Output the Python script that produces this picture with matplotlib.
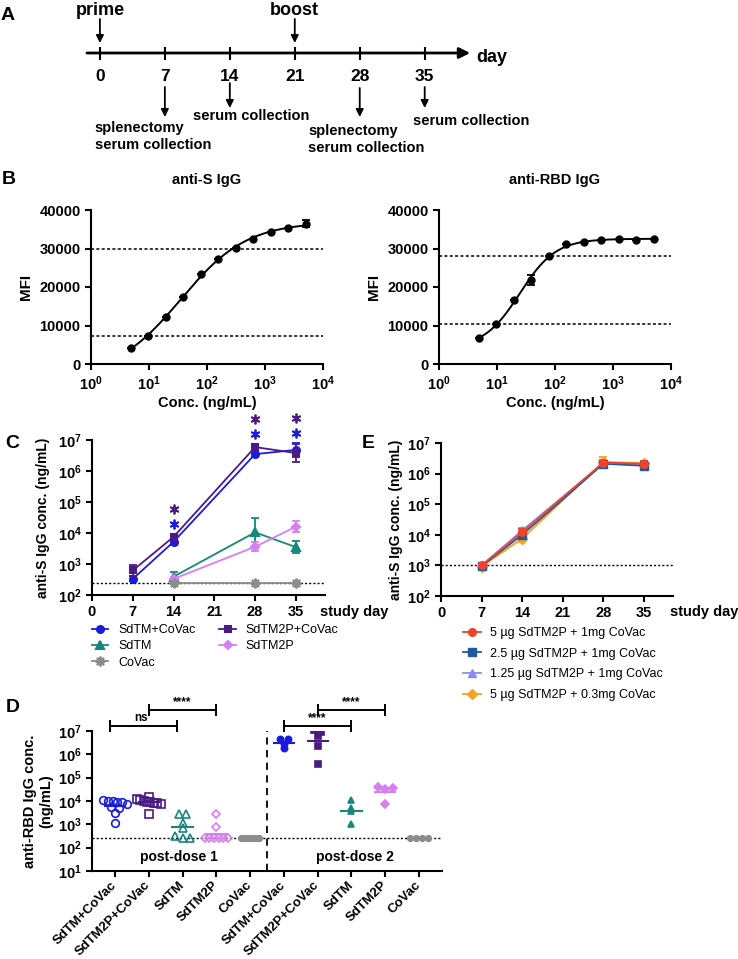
import numpy as np
import matplotlib
matplotlib.use('Agg')
import matplotlib.pyplot as plt
from matplotlib.ticker import LogLocator, NullLocator

plt.rcParams['font.family'] = ['Liberation Sans', 'DejaVu Sans']
plt.rcParams['font.weight'] = 'bold'
plt.rcParams['axes.labelweight'] = 'bold'
plt.rcParams['axes.titleweight'] = 'bold'
plt.rcParams['mathtext.fontset'] = 'custom'
plt.rcParams['mathtext.rm'] = 'Liberation Sans:bold'
plt.rcParams['mathtext.it'] = 'Liberation Sans:bold'
plt.rcParams['mathtext.bf'] = 'Liberation Sans:bold'
plt.rcParams['axes.linewidth'] = 1.5
for a in ('xtick', 'ytick'):
    plt.rcParams[a + '.major.width'] = 1.5
    plt.rcParams[a + '.major.size'] = 4
    plt.rcParams[a + '.labelsize'] = 10.5
    plt.rcParams[a + '.direction'] = 'out'

## ---- data ----
# A: immunisation schedule
sched_days = [0, 7, 14, 21, 28, 35]
dose_days = [0, 21]
dose_names = ['prime', 'boost']
collect_days = [7, 14, 28, 35]
collect_names = ['splenectomy\nserum collection', 'serum collection',
                 'splenectomy\nserum collection', 'serum collection']

# B: standard curves (MFI vs conc.)
conc = [4.88, 9.77, 19.5, 39.1, 78.1, 156, 313, 625, 1250, 2500, 5000]
mfi_s = [4240, 7300, 12240, 17370, 23260, 27400, 30130, 32470, 34380, 35340, 36380]
mfi_s_err = [0, 0, 0, 0, 0, 0, 0, 0, 0, 0, 900]
mfi_rbd = [6630, 10320, 16500, 21850, 28100, 31050, 31800, 32250, 32430, 32080, 32430]
mfi_rbd_err = [0, 0, 0, 1300, 0, 0, 0, 0, 0, 0, 0]
lim_s = [7300, 30000]
lim_rbd = [10300, 28100]

# C: anti-S IgG kinetics (errors in log10 units)
c_days_all = [7, 14, 28, 35]
c_days_late = [14, 28, 35]
c_sdtm_cov = [330, 5200, 3.5e6, 4.8e6]
c_sdtm_cov_err = [0.08, 0.1, 0.08, 0.22]
c_sdtm2p_cov = [620, 7500, 5.9e6, 3.8e6]
c_sdtm2p_cov_err = [0.18, 0.1, 0.1, 0.3]
c_sdtm = [390, 10500, 3500]
c_sdtm_err = [0.15, 0.45, 0.2]
c_sdtm2p = [330, 3600, 16000]
c_sdtm2p_err = [0.05, 0.15, 0.17]
c_covac = [250, 250, 250]
c_covac_err = [0, 0, 0]
c_lod = 250
star_days = [14, 28, 35]

# E: dose titration
e_days = [7, 14, 28, 35]
e_labels = ['5 µg SdTM2P + 1mg CoVac', '2.5 µg SdTM2P + 1mg CoVac',
            '1.25 µg SdTM2P + 1mg CoVac', '5 µg SdTM2P + 0.3mg CoVac']
e_5_1 = [1000, 12000, 2.3e6, 2.1e6]
e_5_1_err = [0.04, 0.1, 0.08, 0.1]
e_25_1 = [950, 10000, 2.1e6, 1.8e6]
e_25_1_err = [0.04, 0.1, 0.08, 0.15]
e_125_1 = [1000, 14000, 2.2e6, 2.0e6]
e_125_1_err = [0.04, 0.08, 0.08, 0.12]
e_5_03 = [920, 7500, 2.4e6, 2.2e6]
e_5_03_err = [0.04, 0.1, 0.15, 0.08]
e_lod = 1000

# D: anti-RBD IgG per mouse
d_labels = ['SdTM+CoVac', 'SdTM2P+CoVac', 'SdTM', 'SdTM2P', 'CoVac'] * 2
d1_sdtm_cov = [11200, 10500, 10000, 9500, 8900, 7600, 5600, 5200, 3100, 1150]
d1_sdtm2p_cov = [15100, 12600, 11200, 10000, 9300, 8900, 8300, 7900, 7600, 2800]
d1_sdtm = [2800, 2800, 1100, 700, 320, 250, 250]
d1_sdtm2p = [2800, 760, 250, 250, 250, 250, 250, 250]
d1_covac = [250] * 8
d2_sdtm_cov = [4.5e6, 4.5e6, 1.8e6, 2.8e6]
d2_sdtm2p_cov = [1.12e7, 8.9e6, 6.3e6, 2.3e6, 4.0e5]
d2_sdtm = [11200, 5000, 3700, 1050]
d2_sdtm2p = [40000, 31600, 35500, 7600]
d2_covac = [250] * 4
d_lod = 250
d_sig = [(0, 2, 'ns'), (1, 3, '****'), (5, 7, '****'), (6, 8, '****')]

## ---- styles ----
BLUE, PURPLE, TEAL, VIOLET, GREY = '#1a1ae0', '#4b1a85', '#16877d', '#d67ff0', '#8c8c8c'
E_COLS = ['#f0412b', '#1d5b9c', '#8a8cf2', '#f5a31f']
E_MARK = ['o', 's', '^', 'D']

fig = plt.figure(figsize=(7.38, 9.59), dpi=100)
W, H = 738., 959.


def frac(x0, y0, x1, y1):
    # pixel box -> figure fraction rect
    return [x0 / W, 1 - y1 / H, (x1 - x0) / W, (y1 - y0) / H]


def style(ax):
    ax.spines['top'].set_visible(False)
    ax.spines['right'].set_visible(False)


def logy(ax, lo, hi):
    ax.set_yscale('log')
    ax.set_ylim(lo, hi)
    ax.yaxis.set_major_locator(LogLocator(base=10, numticks=20))
    ax.yaxis.set_minor_locator(NullLocator())


def fit4pl(x, y):
    lx = np.log10(x)
    y = np.asarray(y, float)
    f = lambda p, t: p[0] + (p[1] - p[0]) / (1 + 10 ** ((p[2] - t) * p[3]))
    p = np.array([y.min(), y.max(), np.median(lx), 1.0])
    lam = 1e-2
    for _ in range(300):
        r = y - f(p, lx)
        J = np.empty((len(lx), 4))
        for j in range(4):
            h = 1e-6 * max(1, abs(p[j]))
            dp = np.zeros(4)
            dp[j] = h
            J[:, j] = (f(p + dp, lx) - f(p - dp, lx)) / (2 * h)
        A = J.T @ J
        step = np.linalg.solve(A + lam * np.diag(np.diag(A)) + 1e-12 * np.eye(4), J.T @ r)
        if np.sum((y - f(p + step, lx)) ** 2) < np.sum(r ** 2):
            p = p + step
            lam *= 0.3
        else:
            lam *= 3
    return lambda t: f(p, np.log10(t))


def spread(vals, step=0.22, maxw=0.7):
    lv = np.log10(vals)
    key = np.round(lv / 0.25)
    off = np.zeros(len(vals))
    for k in np.unique(key):
        idx = np.where(key == k)[0]
        n = len(idx)
        if n > 1:
            s = min(step, maxw / (n - 1))
            off[idx] = (np.arange(n) - (n - 1) / 2) * s
    return off


def logerr(vals, err):
    v = np.asarray(vals, float)
    e = np.asarray(err, float)
    return [v - v / 10 ** e, v * 10 ** e - v]


## ---- A ----
px0, ppd = 99.9, 9.28
axA = fig.add_axes([0, 1 - 175 / H, 1, 175 / H])
axA.set_xlim(-px0 / ppd, (W - px0) / ppd)
axA.set_ylim(175, 0)
axA.axis('off')
axA.annotate('', xy=(39.9, 53), xytext=(-1.4, 53),
             arrowprops=dict(arrowstyle='-|>', lw=2, color='k', mutation_scale=16,
                             shrinkA=0, shrinkB=0))
axA.vlines(sched_days, 47, 60, color='k', lw=1.5)
for d in sched_days:
    axA.text(d, 81, str(d), ha='center', va='baseline', fontsize=12.5)
axA.text(40.6, 62, 'day', ha='left', va='baseline', fontsize=13)
for d, name in zip(dose_days, dose_names):
    axA.text(d, 15, name, ha='center', va='baseline', fontsize=13)
    axA.annotate('', xy=(d, 43), xytext=(d, 19),
                 arrowprops=dict(arrowstyle='-|>', lw=1.3, color='k', mutation_scale=11,
                                 shrinkA=0, shrinkB=0))
arr_top = [87, 83, 88, 87]
arr_tip = [117, 108, 117, 108]
txt_top = [121, 109, 124, 114]
txt_dx = [-1.3, 2.3, 0.7, 5.0]
for d, name, a0, a1, t0, dx in zip(collect_days, collect_names, arr_top, arr_tip, txt_top, txt_dx):
    axA.annotate('', xy=(d, a1), xytext=(d, a0),
                 arrowprops=dict(arrowstyle='-|>', lw=1.3, color='k', mutation_scale=11,
                                 shrinkA=0, shrinkB=0))
    axA.text(d + dx, t0, name, ha='center', va='top', multialignment='left',
             fontsize=10.5, linespacing=1.3)

## ---- B ----
for rect, title, y, yerr, lims in [(frac(91, 210, 323, 364), 'anti-S IgG', mfi_s, mfi_s_err, lim_s),
                                   (frac(439, 210, 671, 364), 'anti-RBD IgG', mfi_rbd, mfi_rbd_err, lim_rbd)]:
    ax = fig.add_axes(rect)
    style(ax)
    ax.set_xscale('log')
    ax.set_xlim(1, 1e4)
    ax.set_ylim(0, 40000)
    ax.set_yticks([0, 10000, 20000, 30000, 40000])
    ax.xaxis.set_major_locator(LogLocator(base=10, numticks=10))
    ax.xaxis.set_minor_locator(NullLocator())
    for lv in lims:
        ax.axhline(lv, color='k', lw=1.1, ls=(0, (2, 1.5)))
    curve = fit4pl(conc, y)
    xs = np.logspace(np.log10(min(conc)), np.log10(max(conc)), 300)
    ax.plot(xs, curve(xs), color='k', lw=1.4)
    ax.errorbar(conc, y, yerr=yerr, fmt='o', color='k', ms=5, capsize=3, elinewidth=1.3,
                capthick=1.3)
    ax.set_title(title, fontsize=10.5, pad=19)
    ax.set_ylabel('MFI', fontsize=11)
    ax.yaxis.set_label_coords(-0.25, 0.5)
    ax.set_xlabel('Conc. (ng/mL)', fontsize=10.5)
    ax.xaxis.set_label_coords(0.5, -0.21)

## ---- C ----
axC = fig.add_axes(frac(92, 440, 325, 595))
style(axC)
logy(axC, 1e2, 1e7)
axC.set_xlim(0, 40)
axC.set_xticks(sched_days)
axC.axhline(c_lod, color='k', lw=1.0, ls=(0, (1.5, 1.5)), zorder=1)
c_series = [(c_days_all, c_sdtm_cov, c_sdtm_cov_err, BLUE, 'o', 5, 'SdTM+CoVac'),
            (c_days_all, c_sdtm2p_cov, c_sdtm2p_cov_err, PURPLE, 's', 5, 'SdTM2P+CoVac'),
            (c_days_late, c_sdtm, c_sdtm_err, TEAL, '^', 6, 'SdTM'),
            (c_days_late, c_sdtm2p, c_sdtm2p_err, VIOLET, 'D', 4.5, 'SdTM2P'),
            (c_days_late, c_covac, c_covac_err, GREY, (8, 2, 0), 7, 'CoVac')]
c_handles = []
for dd, vv, ee, col, mk, ms, lab in c_series:
    axC.errorbar(dd, vv, yerr=logerr(vv, ee), fmt='none', ecolor=col, elinewidth=1.3,
                 capsize=3, capthick=1.3)
    h, = axC.plot(dd, vv, color=col, marker=mk, ms=ms, lw=1.3, mew=1.5, label=lab)
    c_handles.append(h)
# significance stars above the two combination groups
for d in star_days:
    ia = c_days_all.index(d)
    top = max(c_sdtm_cov[ia] * 10 ** c_sdtm_cov_err[ia], c_sdtm2p_cov[ia] * 10 ** c_sdtm2p_cov_err[ia])
    axC.plot([d], [top * 10 ** 0.33], ls='none', marker=(6, 2, 0), ms=7, mew=1.3, color=BLUE,
             clip_on=False)
    axC.plot([d], [top * 10 ** 0.8], ls='none', marker=(6, 2, 0), ms=7, mew=1.3, color=PURPLE,
             clip_on=False)
axC.set_ylabel('anti-S IgG conc. (ng/mL)', fontsize=10)
axC.yaxis.set_label_coords(-0.18, 0.5)
fig.text(320 / W, 1 - 612 / H, 'study day', ha='left', va='center', fontsize=10.5)
order = [0, 2, 4, 1, 3]
axC.legend([c_handles[i] for i in order], [c_handles[i].get_label() for i in order],
           loc='upper left', bbox_to_anchor=(92 / W, 1 - 624 / H), bbox_transform=fig.transFigure,
           ncol=2, frameon=False, prop={'weight': 'normal', 'size': 9}, handlelength=1.3,
           handletextpad=0.8, columnspacing=1.9, labelspacing=0.35, borderpad=0,
           borderaxespad=0)

## ---- E ----
axE = fig.add_axes(frac(441, 443, 673, 596))
style(axE)
logy(axE, 1e2, 1e7)
axE.set_xlim(0, 40)
axE.set_xticks(sched_days)
axE.axhline(e_lod, color='k', lw=1.0, ls=(0, (1.5, 1.5)), zorder=1)
e_vals = [e_5_1, e_25_1, e_125_1, e_5_03]
e_errs = [e_5_1_err, e_25_1_err, e_125_1_err, e_5_03_err]
e_handles = []
for k in range(4):
    z = 10 - k
    axE.errorbar(e_days, e_vals[k], yerr=logerr(e_vals[k], e_errs[k]), fmt='none',
                 ecolor=E_COLS[k], elinewidth=1.3, capsize=3, capthick=1.3, zorder=z)
    h, = axE.plot(e_days, e_vals[k], color=E_COLS[k], marker=E_MARK[k], ms=5.5, lw=1.3,
                  label=e_labels[k], zorder=z)
    e_handles.append(h)
axE.set_ylabel('anti-S IgG conc. (ng/mL)', fontsize=10)
axE.yaxis.set_label_coords(-0.165, 0.5)
fig.text(670 / W, 1 - 612 / H, 'study day', ha='left', va='center', fontsize=10.5)
axE.legend(handles=e_handles, loc='upper left', bbox_to_anchor=(463 / W, 1 - 627 / H),
           bbox_transform=fig.transFigure, frameon=False, prop={'weight': 'normal', 'size': 9},
           handlelength=1.4, handletextpad=0.8, labelspacing=0.7, borderpad=0, borderaxespad=0)

## ---- D ----
axD = fig.add_axes(frac(92, 731, 442, 871))
style(axD)
logy(axD, 10, 1e7)
axD.set_xlim(-0.68, 9.68)
axD.axhline(d_lod, color='k', lw=1.0, ls=(0, (1.5, 1.5)), zorder=1)
axD.axvline(4.5, color='k', lw=1.3, ls=(0, (4, 3)))
d_values = [d1_sdtm_cov, d1_sdtm2p_cov, d1_sdtm, d1_sdtm2p, d1_covac,
            d2_sdtm_cov, d2_sdtm2p_cov, d2_sdtm, d2_sdtm2p, d2_covac]
d_cols = [BLUE, PURPLE, TEAL, VIOLET, GREY] * 2
d_mark = ['o', 's', '^', 'D', 'o'] * 2
for i, vals in enumerate(d_values):
    vals = np.asarray(vals, float)
    xs = i + spread(vals, maxw=0.7 if i % 5 != 4 else 0.55)
    open_m = i < 5 and i % 5 != 4
    if open_m:
        ms = 5.5 if d_mark[i] != 'D' else 4.5
    else:
        ms = 4.5 if i % 5 != 4 else 4
        if d_mark[i] == 'D':
            ms = 3.8
    axD.plot(xs, vals, ls='none', marker=d_mark[i], ms=ms,
             mfc='none' if open_m else d_cols[i], mec=d_cols[i], mew=1.2, zorder=3)
    gm = 10 ** np.mean(np.log10(vals))
    axD.plot([i - 0.3, i + 0.3], [gm, gm], color=d_cols[i], lw=1.5, zorder=2)
for k, (a, b, s) in enumerate(d_sig):
    yb = 1.7e7 if a in (0, 5) else 8.2e7
    sh = -0.15 if a == 0 else 0
    axD.plot([a + sh, b + sh], [yb, yb], color='k', lw=1.4, marker='|', ms=9, mew=1.4,
             clip_on=False)
    axD.text((a + b) / 2 + sh * 1.5, yb * 1.12, s, ha='center', va='bottom', fontsize=8.5,
             clip_on=False)
axD.text(1.9, 40, 'post-dose 1', ha='center', va='center', fontsize=10)
axD.text(7.1, 40, 'post-dose 2', ha='center', va='center', fontsize=10)
axD.set_xticks(range(len(d_labels)))
axD.set_xticklabels(d_labels, rotation=45, ha='right', va='center', rotation_mode='anchor',
                    fontsize=9.5)
axD.tick_params(axis='x', pad=5)
axD.set_ylabel('anti-RBD IgG conc.\n(ng/mL)', fontsize=10.5)
axD.yaxis.set_label_coords(-0.11, 0.5)

## ---- panel letters ----
for lab, x, y in [('A', 8, 15), ('B', 9, 180), ('C', 12, 443), ('E', 368, 443), ('D', 13, 707)]:
    fig.text(x / W, 1 - y / H, lab, ha='center', va='center', fontsize=14)

fig.savefig('out.png', dpi=100)
